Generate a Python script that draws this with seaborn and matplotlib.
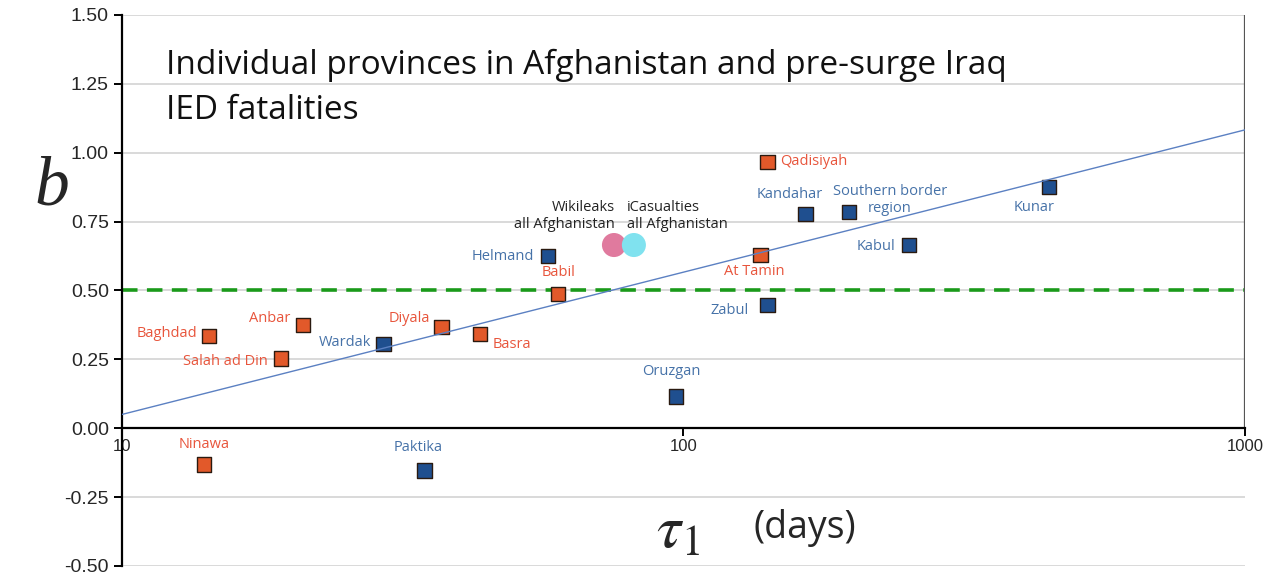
import numpy as np
import pandas as pd
import seaborn as sns
import matplotlib.pyplot as plt

# === DATOS ===
iraq_names = ["Baghdad", "Salah ad Din", "Anbar", "Diyala", "Basra",
              "Babil", "At Tamin", "Qadisiyah", "Ninawa"]
iraq_tau = [14.3, 19.2, 21.0, 37.1, 43.4, 59.8, 137.0, 141.0, 14.0]
iraq_b = [0.334, 0.254, 0.374, 0.367, 0.342, 0.487, 0.629, 0.967, -0.131]

afg_names = ["Wardak", "Paktika", "Helmand", "Oruzgan", "Zabul", "Kandahar",
             "Southern border\nregion", "Kabul", "Kunar"]
afg_tau = [29.2, 34.6, 57.4, 97.0, 141.0, 165.0, 197.0, 252.0, 448.0]
afg_b = [0.305, -0.153, 0.625, 0.116, 0.447, 0.778, 0.785, 0.665, 0.876]

total_names = ["Wikileaks\nall Afghanistan", "iCasualties\nall Afghanistan"]
total_tau = [75.2, 81.6]
total_b = [0.665, 0.665]

fit_tau = [10, 1000]
fit_b = [0.05, 1.083]
b_ref = 0.5

y_ticks = [-0.5, -0.25, 0, 0.25, 0.5, 0.75, 1.0, 1.25, 1.5]
x_ticks = [10, 100, 1000]

# === ESTILO ===
ORANGE = "#e2592a"
BLUE = "#1f4f8f"
ORANGE_TXT = "#e8553c"
BLUE_TXT = "#4672a8"

# posicion de etiquetas: (dx, dy en pixeles, ha)
label_pos = {
    "Baghdad": (-12, 3, "right"), "Salah ad Din": (-13, -3, "right"),
    "Anbar": (-13, 7, "right"), "Diyala": (-12, 9, "right"),
    "Basra": (13, -10, "left"), "Babil": (0, 22, "center"),
    "At Tamin": (-6, -17, "center"), "Qadisiyah": (13, 0, "left"),
    "Ninawa": (0, 20, "center"),
    "Wardak": (-12, 2, "right"), "Paktika": (-6, 23, "center"),
    "Helmand": (-14, 0, "right"), "Oruzgan": (-5, 25, "center"),
    "Zabul": (-19, -5, "right"), "Kandahar": (-16, 19, "center"),
    "Southern border\nregion": (41, 12, "center"), "Kabul": (-13, -1, "right"),
    "Kunar": (-15, -21, "center"),
    "Wikileaks\nall Afghanistan": (1, 29, "right"),
    "iCasualties\nall Afghanistan": (-7, 29, "left"),
}

sns.set_style("white")
plt.rcParams["font.family"] = ["Open Sans", "DejaVu Sans"]
plt.rcParams["mathtext.fontset"] = "stix"

df = pd.DataFrame({
    "tau": iraq_tau + afg_tau,
    "b": iraq_b + afg_b,
    "name": iraq_names + afg_names,
    "grupo": ["Iraq"] * len(iraq_names) + ["Afghanistan"] * len(afg_names),
})
df_tot = pd.DataFrame({"tau": total_tau, "b": total_b, "name": total_names,
                       "fuente": ["Wikileaks", "iCasualties"]})

fig = plt.figure(figsize=(12.81, 5.76), dpi=100)
ax = fig.add_axes([0.0952, 0.0174, 0.8767, 0.9566])

ax.set_xscale("log")
ax.set_xlim(10, 1000)
ax.set_ylim(-0.5, 1.5)

for yt in y_ticks:
    ax.axhline(yt, color="#d9d9d9", lw=1.4, zorder=0)

ax.axhline(b_ref, color="#1a9a1a", lw=2.6, ls=(0, (4.3, 2.6)), zorder=1)

sns.scatterplot(data=df, x="tau", y="b", hue="grupo", marker="s", s=110,
                palette={"Iraq": ORANGE, "Afghanistan": BLUE},
                edgecolor="#2a1a10", linewidth=1.0, legend=False, zorder=3, ax=ax)
sns.scatterplot(data=df_tot, x="tau", y="b", hue="fuente", marker="o", s=300,
                palette={"Wikileaks": "#e07a9e", "iCasualties": "#80e2ef"},
                edgecolor="none", legend=False, zorder=3, ax=ax)
sns.lineplot(x=fit_tau, y=fit_b, color="#5b80c2", lw=1.0, zorder=4, ax=ax)

for _, r in df.iterrows():
    dx, dy, ha = label_pos[r["name"]]
    col = ORANGE_TXT if r["grupo"] == "Iraq" else BLUE_TXT
    ax.annotate(r["name"], (r["tau"], r["b"]), xytext=(dx, dy),
                textcoords="offset pixels", ha=ha, va="center",
                multialignment="center", color=col, fontsize=10.5)
for _, r in df_tot.iterrows():
    dx, dy, ha = label_pos[r["name"]]
    ax.annotate(r["name"], (r["tau"], r["b"]), xytext=(dx, dy),
                textcoords="offset pixels", ha=ha, va="center",
                multialignment=ha, color="#222222", fontsize=10.5)

# ejes al estilo Excel: eje x cruzando en cero
for s in ["top", "right"]:
    ax.spines[s].set_visible(False)
ax.spines["bottom"].set_position(("data", 0))
ax.spines["left"].set_linewidth(1.6)
ax.spines["bottom"].set_linewidth(1.6)
ax.spines["left"].set_color("black")
ax.spines["bottom"].set_color("black")
ax.vlines(1000, 0, 1.5, color="#555555", lw=1.6, zorder=2)

ax.set_yticks(y_ticks)
ax.set_yticklabels([f"{v:.2f}" for v in y_ticks], family="Liberation Sans", fontsize=14)
ax.set_xticks(x_ticks)
ax.set_xticklabels([str(v) for v in x_ticks], family="Liberation Sans", fontsize=12)
ax.xaxis.set_minor_locator(plt.NullLocator())
ax.tick_params(axis="both", direction="out", length=6, width=1.4, color="black",
               left=True, bottom=True)
ax.tick_params(axis="x", pad=2)
ax.set_xlabel("")
ax.set_ylabel("")

ax.text(0.039, 0.8675, "Individual provinces in Afghanistan and pre-surge Iraq\nIED fatalities",
        transform=ax.transAxes, ha="left", va="center", fontsize=24, linespacing=1.5,
        color="#111111")

fig.text(52 / 1281, 1 - 188 / 576, "b", family="Liberation Serif", style="italic",
         fontsize=50, ha="center", va="center")
fig.text(678 / 1281, 1 - 532 / 576, r"$\tau_1$", fontsize=44, ha="center", va="center")
fig.text(805 / 1281, 1 - 528 / 576, "(days)", fontsize=27, ha="center", va="center")

fig.savefig("out.png", dpi=100, facecolor="white")
